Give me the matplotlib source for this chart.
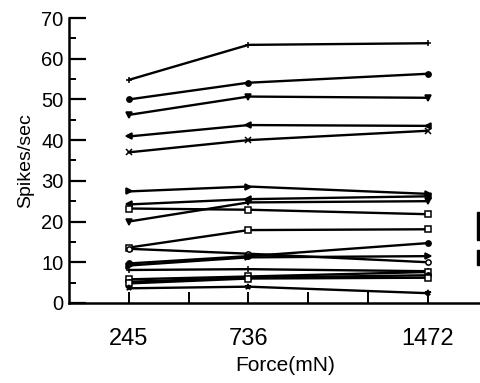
import matplotlib
matplotlib.use("Agg")
import matplotlib.pyplot as plt
from matplotlib.patches import Rectangle

plt.rcParams['font.family'] = ['Liberation Sans', 'DejaVu Sans']

force = [245, 736, 1472]
minor_force = [490.7, 981.3, 1226.7]

# firing rate of each unit at the three forces
units = [
    [54.8, 63.4, 63.8],
    [50.0, 54.1, 56.3],
    [46.2, 50.7, 50.4],
    [40.9, 43.7, 43.5],
    [37.0, 40.0, 42.3],
    [27.4, 28.6, 26.8],
    [24.2, 25.5, 26.2],
    [23.2, 22.9, 21.8],
    [20.0, 24.7, 25.0],
    [13.6, 17.9, 18.1],
    [13.3, 12.1, 10.0],
    [9.7, 11.5, 14.7],
    [9.2, 11.2, 11.5],
    [8.1, 8.3, 7.8],
    [5.8, 6.5, 7.6],
    [5.2, 6.2, 6.8],
    [4.8, 6.0, 6.2],
    [3.6, 4.0, 2.4],
]
markers = ['+', 'o', 'v', '<', 'x', '>', '<', 's', 'v', 's',
           'o', 'o', '>', '+', 's', 'o', 's', '*']
open_marks = {7, 9, 10, 14, 16}

fig = plt.figure(figsize=(4.8, 3.83), dpi=100)
ax = fig.add_axes([0.144, 0.209, 0.9, 0.744])

for i, (vals, m) in enumerate(zip(units, markers)):
    face = 'white' if i in open_marks else 'black'
    ax.plot(force, vals, color='black', lw=1.7, marker=m, ms=3.8,
            mfc=face, mec='black', mew=1.1, clip_on=False)

ax.set_xlim(0, 1773)
ax.set_ylim(0, 70)
ax.spines['top'].set_visible(False)
ax.spines['right'].set_visible(False)
for s in ('left', 'bottom'):
    ax.spines[s].set_linewidth(1.8)

ax.set_xticks(force)
ax.set_xticklabels([str(f) for f in force], fontsize=17)
ax.set_xticks(minor_force, minor=True)
ax.set_yticks(range(0, 71, 10))
ax.set_yticks(range(5, 70, 10), minor=True)
ax.tick_params(axis='y', which='major', direction='in', length=12, width=1.6,
               labelsize=14.5, pad=4)
ax.tick_params(axis='y', which='minor', direction='in', length=5, width=1.4)
ax.tick_params(axis='x', which='both', direction='in', length=8, width=1.4,
               pad=18)

ax.set_xlabel('Force(mN)', fontsize=15, labelpad=4)
ax.set_ylabel('Spikes/sec', fontsize=14, labelpad=5)

# edge of the legend box cut off at the right side
fig.add_artist(Rectangle((0.994, 0.373), 0.009, 0.073, color='black',
                         transform=fig.transFigure))
fig.add_artist(Rectangle((0.994, 0.308), 0.009, 0.04, color='black',
                         transform=fig.transFigure))

fig.savefig('out.png', dpi=100)
